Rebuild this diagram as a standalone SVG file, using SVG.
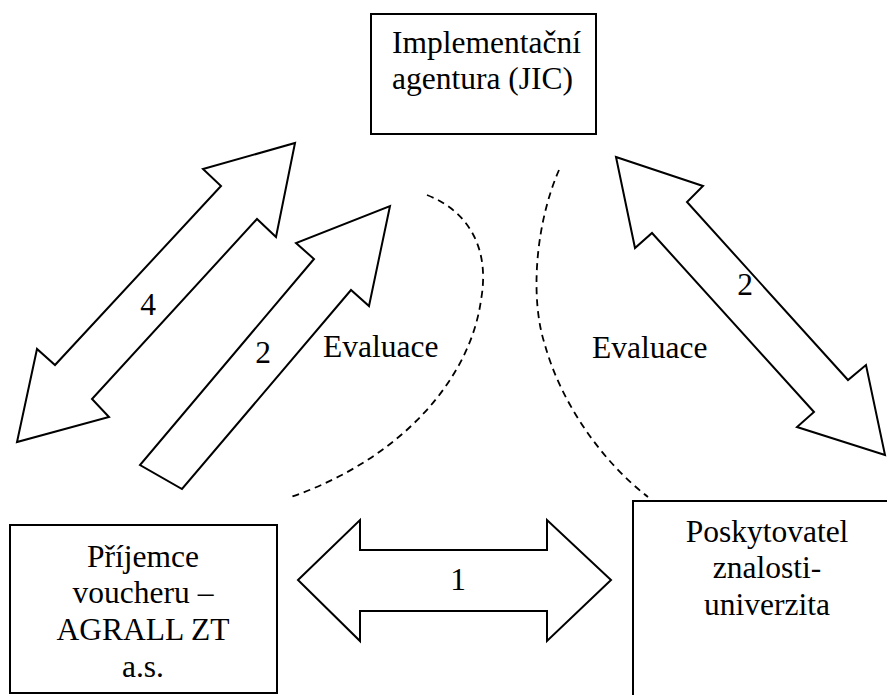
<svg xmlns="http://www.w3.org/2000/svg" width="887" height="695" viewBox="0 0 887 695">
<style>
.box{fill:#fff;stroke:#000;stroke-width:2}
.arr{fill:#fff;stroke:#000;stroke-width:2;stroke-linejoin:miter}
.dash{fill:none;stroke:#000;stroke-width:1.8;stroke-dasharray:7 5}
.c{text-anchor:middle}
</style>
<rect width="887" height="695" fill="#fff"/>
<g font-family="Liberation Serif, Times New Roman, Times, DejaVu Serif, Noto Serif, serif" font-size="31.5" fill="#000">
<g id="connectors">
<polygon id="arrow4" class="arr" points="295,143 276,237 257,219 92,399 109,417 17,442 37,349 55,365 221,186 203,169"/>
<polygon id="arrow2left" class="arr" points="390,206 369,306 351,290 182,489 140,465 314,259 296,243"/>
<polygon id="arrow2right" class="arr" points="616,157 703,186 687,202 848,380 866,365 885,455 797,427 814,412 652,233 635,248"/>
<polygon id="arrow1" class="arr" points="298,580 360,520 360,550 547,550 547,520 611,580 547,641 547,611 360,611 360,641"/>
<path class="dash" d="M427,195 C470,212 490,250 481,300 C470,380 400,460 288,498"/>
<path class="dash" d="M559,170 C535,225 530,300 545,345 C560,400 600,460 648,497"/>
<text class="c" x="148" y="315">4</text>
<text class="c" x="263" y="363">2</text>
<text class="c" x="745" y="295">2</text>
<text class="c" x="458" y="590">1</text>
<text x="323" y="357">Evaluace</text>
<text x="592" y="358">Evaluace</text>
</g>
<g id="node-agentura">
<rect class="box" x="371" y="14" width="225" height="120"/>
<text x="392" y="53">Implementační</text>
<text x="392" y="89">agentura (JIC)</text>
</g>
<g id="node-prijemce">
<rect class="box" x="10" y="525" width="267" height="168"/>
<text class="c" x="143" y="567">Příjemce</text>
<text class="c" x="143" y="603">voucheru –</text>
<text class="c" x="143" y="640">AGRALL ZT</text>
<text class="c" x="143" y="677">a.s.</text>
</g>
<g id="node-poskytovatel">
<rect class="box" x="633" y="501" width="270" height="210"/>
<text class="c" x="767" y="542">Poskytovatel</text>
<text class="c" x="767" y="578">znalosti-</text>
<text class="c" x="767" y="615">univerzita</text>
</g>
</g>
</svg>
